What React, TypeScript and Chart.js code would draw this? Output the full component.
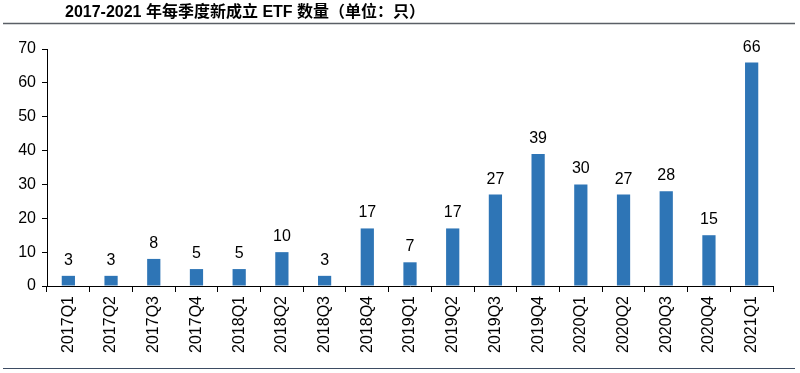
import React, { useEffect, useRef } from "react";
import { Chart, registerables } from "chart.js";

Chart.register(...registerables);

const titleText = "2017-2021 年每季度新成立 ETF 数量（单位：只）";
const categories = [
  "2017Q1", "2017Q2", "2017Q3", "2017Q4",
  "2018Q1", "2018Q2", "2018Q3", "2018Q4",
  "2019Q1", "2019Q2", "2019Q3", "2019Q4",
  "2020Q1", "2020Q2", "2020Q3", "2020Q4",
  "2021Q1",
];
const etfCounts = [3, 3, 8, 5, 5, 10, 3, 17, 7, 17, 27, 39, 30, 27, 28, 15, 66];
const yTicks = [0, 10, 20, 30, 40, 50, 60, 70];

const FONT = '"Liberation Sans", Arial, "Noto Sans CJK SC", sans-serif';

const decorPlugin = {
  id: "decor",
  afterDraw(chart: any) {
    const ctx = chart.ctx;
    ctx.save();
    ctx.font = `bold 16px "Liberation Sans", Arial, "Noto Sans CJK SC", sans-serif`;
    ctx.fillStyle = "#000";
    ctx.textBaseline = "middle";
    ctx.textAlign = "left";
    ctx.fillText(titleText, 65, 13);
    ctx.strokeStyle = "#5a5f66";
    ctx.lineWidth = 1.5;
    ctx.beginPath();
    ctx.moveTo(3, 23.5);
    ctx.lineTo(795, 23.5);
    ctx.stroke();
    ctx.strokeStyle = "#3d4c63";
    ctx.lineWidth = 1;
    ctx.beginPath();
    ctx.moveTo(3, 368.5);
    ctx.lineTo(795, 368.5);
    ctx.stroke();
    const meta = chart.getDatasetMeta(0);
    ctx.font = `16px ${FONT}`;
    ctx.textAlign = "center";
    ctx.textBaseline = "alphabetic";
    meta.data.forEach((bar: any, i: number) => {
      ctx.fillText(String(etfCounts[i]), bar.x, bar.y - 11);
    });
    ctx.restore();
  },
};

export default function App() {
  const ref = useRef<HTMLCanvasElement | null>(null);
  useEffect(() => {
    document.body.style.margin = "0";
    const canvas = ref.current;
    if (!canvas) return;
    const chart = new Chart(canvas, {
      type: "bar",
      data: {
        labels: categories,
        datasets: [
          {
            data: etfCounts,
            backgroundColor: "#2e75b6",
            barPercentage: 0.31,
            categoryPercentage: 1,
          },
        ],
      },
      options: {
        animation: false,
        responsive: false,
        devicePixelRatio: 1,
        layout: { padding: { left: 0, top: 49, right: 27, bottom: 0 } },
        plugins: {
          legend: { display: false },
          tooltip: { enabled: false },
          title: { display: false },
        },
        scales: {
          x: {
            grid: {
              offset: true,
              drawOnChartArea: false,
              drawTicks: true,
              tickLength: 6,
              color: "#000",
            },
            border: { display: true, color: "#000", width: 1 },
            ticks: {
              color: "#000",
              font: { family: FONT, size: 16 },
              minRotation: 90,
              maxRotation: 90,
              autoSkip: false,
              padding: 4,
            },
            afterFit(scale: any) {
              scale.height = 87;
            },
          },
          y: {
            min: 0,
            max: 70,
            afterBuildTicks(scale: any) {
              scale.ticks = yTicks.map((v) => ({ value: v }));
            },
            grid: {
              drawOnChartArea: false,
              drawTicks: true,
              tickLength: 5,
              color: "#000",
            },
            border: { display: true, color: "#000", width: 1 },
            ticks: {
              color: "#000",
              font: { family: FONT, size: 16 },
              padding: 6,
            },
            afterFit(scale: any) {
              scale.width = 47;
            },
          },
        },
      },
      plugins: [decorPlugin],
    });
    return () => chart.destroy();
  }, []);
  return (
    <div style={{ width: 800, height: 373, background: "#fff" }}>
      <canvas ref={ref} width={800} height={373} style={{ display: "block" }} />
    </div>
  );
}
